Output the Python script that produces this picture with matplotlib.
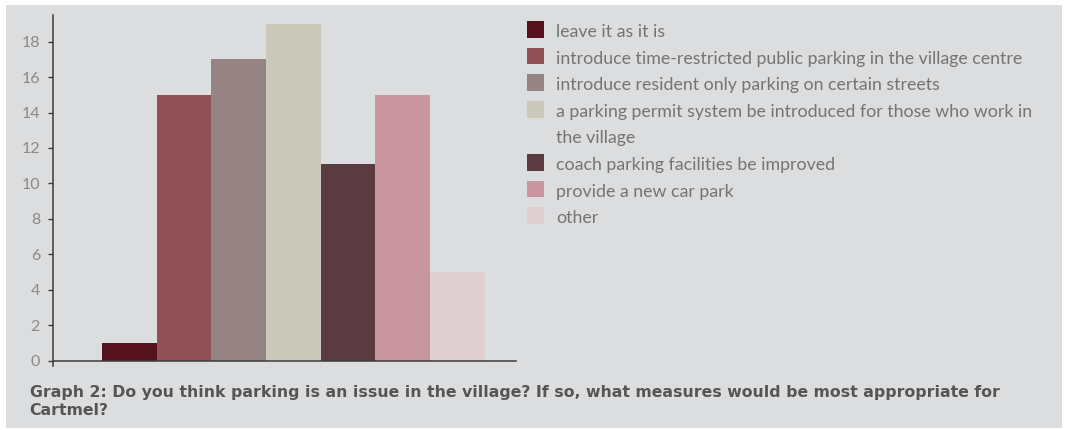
import matplotlib
matplotlib.use("Agg")
import matplotlib.pyplot as plt
from matplotlib.patches import Rectangle

# survey answers and counts
answers = [
    "leave it as it is",
    "introduce time-restricted public parking in the village centre",
    "introduce resident only parking on certain streets",
    "a parking permit system be introduced for those who work in\nthe village",
    "coach parking facilities be improved",
    "provide a new car park",
    "other",
]
counts = [1, 15, 17, 19, 11.1, 15, 5]
colors = ["#56111e", "#914f58", "#968484", "#cbc9bc", "#5a3b41", "#c9959e", "#dfcfd1"]
yticks = [0, 2, 4, 6, 8, 10, 12, 14, 16, 18]
title = ("Graph 2: Do you think parking is an issue in the village? If so, what measures would be most appropriate for\n"
         "Cartmel?")

W, H = 1067, 430
panel = "#dcdddf"
axis_col = "#3c3c3c"
tick_col = "#8a8a8a"
legend_col = "#747474"
title_col = "#555555"

plt.rcParams["font.family"] = ["Lato", "DejaVu Sans"]


def fx(x):
    return x / W


def fy(y):
    return 1 - y / H


fig = plt.figure(figsize=(W / 100, H / 100), dpi=100)
fig.patch.set_facecolor("white")
fig.patches.append(Rectangle((fx(6), fy(428)), fx(1062) - fx(6), fy(5) - fy(428),
                             transform=fig.transFigure, facecolor=panel, edgecolor="none", zorder=-10))

ax = fig.add_axes([fx(53.5), fy(366), fx(516) - fx(53.5), fy(15) - fy(366)])
ax.patch.set_alpha(0)

x = list(range(len(counts)))
ax.bar(x, counts, width=1.0, color=colors, linewidth=0, zorder=2)

ax.set_xlim(-1.387, 7.07)
ax.set_ylim(-0.3, 19.5)
ax.set_xticks([])
ax.set_yticks(yticks)
ax.set_yticklabels([str(t) for t in yticks])
ax.tick_params(axis="y", direction="out", length=3.7, width=1.0, color=axis_col,
               labelcolor=tick_col, labelsize=11.5, pad=6)

for side in ("top", "right"):
    ax.spines[side].set_visible(False)
ax.spines["bottom"].set_position(("data", 0))
for side in ("left", "bottom"):
    ax.spines[side].set_color(axis_col)
    ax.spines[side].set_linewidth(1.1)
    ax.spines[side].set_zorder(3)

# legend drawn row by row so wrapped labels keep the swatch on the first line
line_step = 26.6
baseline = 37.0
for label, col in zip(answers, colors):
    fig.patches.append(Rectangle((fx(527), fy(baseline - 7.5 + 8.3)), fx(544) - fx(527), 16.6 / H,
                                 transform=fig.transFigure, facecolor=col, edgecolor="none"))
    for i, part in enumerate(label.split("\n")):
        fig.text(fx(556.5), fy(baseline + i * line_step), part, fontsize=12.8,
                 color=legend_col, ha="left", va="baseline")
    baseline += line_step * len(label.split("\n"))

for i, part in enumerate(title.split("\n")):
    fig.text(fx(29.5), fy(396.7 + i * 18.5), part, fontsize=11.3, fontweight="bold",
             family="DejaVu Sans", color=title_col, ha="left", va="baseline")

fig.savefig("out.png", dpi=100, facecolor=fig.get_facecolor())
